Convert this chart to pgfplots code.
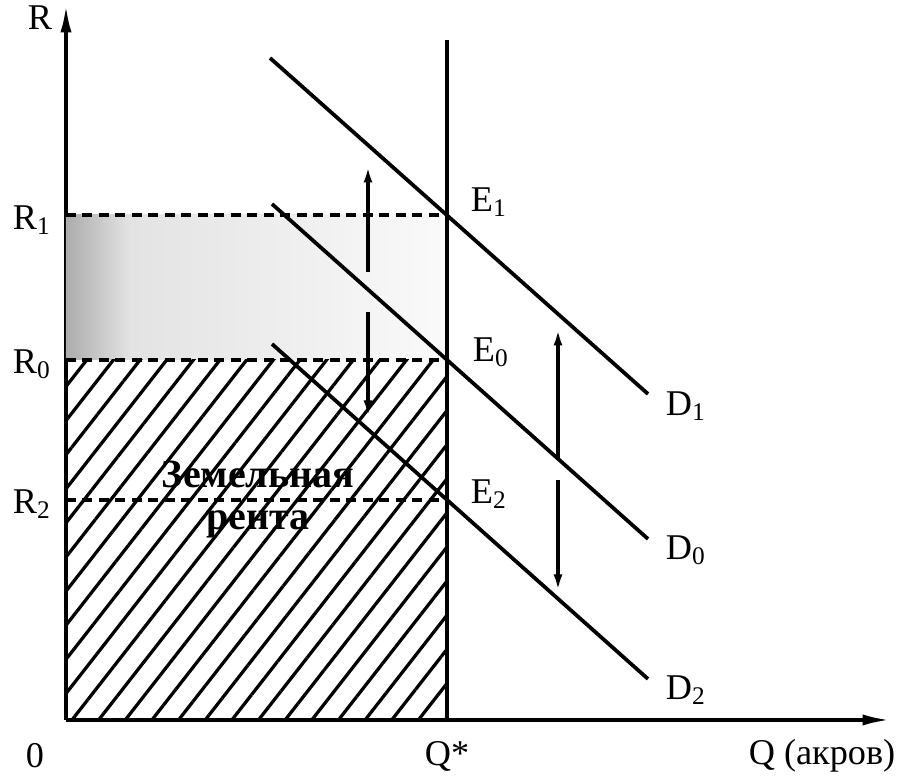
\documentclass[border=0pt]{standalone}
\usepackage{fontspec}
\setmainfont{Liberation Serif}
\usepackage{pgfplots}
\pgfplotsset{compat=1.18}
\usetikzlibrary{patterns.meta, arrows.meta}

\pgfplotstableread{
x y
204 662
582 326
}\dOne
\pgfplotstableread{
x y
206 516
582 181
}\dZero
\pgfplotstableread{
x y
206 376
582 41
}\dTwo

\tikzset{lab/.style={font=\fontsize{14.5}{16}\selectfont, inner sep=1pt}}

\begin{document}
\begin{tikzpicture}
\begin{axis}[
  scale only axis, width=329.6pt, height=286pt,
  xmin=0, xmax=824, ymin=0, ymax=715,
  axis lines=left,
  axis line style={line width=1.4pt, -{Latex[length=11pt,width=4.5pt]}},
  xtick=\empty, ytick=\empty, clip=false,
]
% gray shaded band between R0 and R1
\addplot[draw=none, left color=gray!65, right color=gray!22] coordinates {(0,360)(64,360)(64,505)(0,505)} -- cycle;
\addplot[draw=none, left color=gray!22, right color=gray!4] coordinates {(64,360)(381,360)(381,505)(64,505)} -- cycle;
% hatched land rent area
\addplot[draw=none, pattern={Lines[angle=52, distance=8.4pt, line width=1.3pt]}] coordinates {(0,0)(381,0)(381,360)(0,360)} -- cycle;
% dashed levels
\addplot[line width=1.3pt, dash pattern=on 4pt off 2.6pt] coordinates {(0,505)(381,505)};
\addplot[line width=1.3pt, dash pattern=on 4pt off 2.6pt] coordinates {(0,360)(381,360)};
\addplot[line width=1.3pt, dash pattern=on 4pt off 2.6pt] coordinates {(0,220)(381,220)};
% vertical supply Q*
\addplot[line width=1.7pt] coordinates {(381,0)(381,680)};
% demand curves
\addplot[line width=1.5pt] table[x=x,y=y] {\dOne};
\addplot[line width=1.5pt] table[x=x,y=y] {\dZero};
\addplot[line width=1.5pt] table[x=x,y=y] {\dTwo};
% shift arrows
\addplot[line width=1.4pt, -{Latex[length=7pt,width=3.5pt]}] coordinates {(302,448)(302,555)};
\addplot[line width=1.4pt, -{Latex[length=7pt,width=3.5pt]}] coordinates {(302,408)(302,302)};
\addplot[line width=1.4pt, -{Latex[length=7pt,width=3.5pt]}] coordinates {(492,260)(492,392)};
\addplot[line width=1.4pt, -{Latex[length=7pt,width=3.5pt]}] coordinates {(492,240)(492,128)};
% labels
\node[lab] at (axis cs:-26,702) {R};
\node[lab] at (axis cs:-34,500) {R\textsubscript{1}};
\node[lab] at (axis cs:-34,356) {R\textsubscript{0}};
\node[lab] at (axis cs:-34,216) {R\textsubscript{2}};
\node[lab] at (axis cs:-31,-36) {0};
\node[lab] at (axis cs:381,-36) {Q*};
\node[lab] at (axis cs:756,-36) {Q (акров)};
\node[lab] at (axis cs:423,518) {E\textsubscript{1}};
\node[lab] at (axis cs:425,368) {E\textsubscript{0}};
\node[lab] at (axis cs:423,226) {E\textsubscript{2}};
\node[lab] at (axis cs:620,314) {D\textsubscript{1}};
\node[lab] at (axis cs:620,170) {D\textsubscript{0}};
\node[lab] at (axis cs:620,30) {D\textsubscript{2}};
\node[font=\fontsize{16}{18}\selectfont\bfseries, inner sep=0pt] at (axis cs:192,246) {Земельная};
\node[font=\fontsize{16}{18}\selectfont\bfseries, inner sep=0pt] at (axis cs:192,196) {рента};
\coordinate (bl) at (axis cs:-66,-58);
\coordinate (tr) at (axis cs:834,720);
\end{axis}
\pgfresetboundingbox
\path (bl) rectangle (tr);
\end{tikzpicture}
\end{document}
